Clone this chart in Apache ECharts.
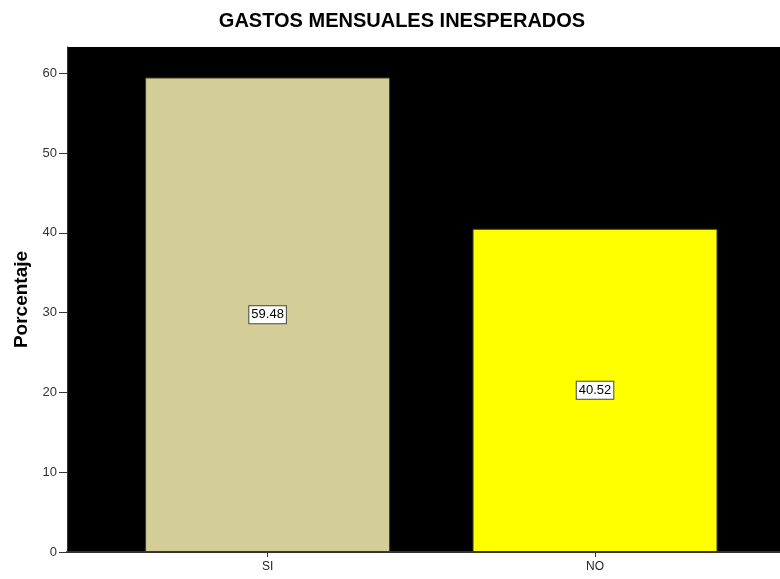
<!DOCTYPE html>
<html>
<head>
<meta charset="utf-8">
<script src="https://cdn.jsdelivr.net/npm/echarts@6/dist/echarts.min.js"></script>
<style>
html,body{margin:0;padding:0;background:#fff;}
#chart{width:780px;height:579px;}
</style>
</head>
<body>
<div id="chart"></div>
<script>
var categories = ['SI', 'NO'];
var percentages = [59.48, 40.52];
var barColors = ['#d3ce98', '#ffff00'];
var yTicks = [0, 10, 20, 30, 40, 50, 60];

var chart = echarts.init(document.getElementById('chart'), null, {renderer: 'canvas'});
var data = categories.map(function (c, i) {
  return {value: [i, percentages[i]], itemStyle: {color: barColors[i]}};
});
chart.setOption({
  animation: false,
  title: {
    text: 'GASTOS MENSUALES INESPERADOS',
    left: 397, top: 6, textAlign: 'center',
    textStyle: {fontFamily: 'Liberation Sans, Arial', fontSize: 20, fontWeight: 'bold', color: '#000'}
  },
  grid: {
    left: 67, right: 0, top: 47, bottom: 27,
    show: true, backgroundColor: '#000', borderWidth: 0
  },
  xAxis: {
    type: 'value', min: -0.6127, max: 1.565,
    axisLine: {show: true, onZero: false, lineStyle: {color: '#333', width: 2}},
    axisTick: {show: true, customValues: [0, 1], length: 5, lineStyle: {color: '#333'}},
    axisLabel: {
      customValues: [0, 1], margin: 9,
      formatter: function (v) { return categories[Math.round(v)]; },
      fontFamily: 'Liberation Sans, Arial', fontSize: 12, color: '#222'
    },
    splitLine: {show: false}
  },
  yAxis: {
    type: 'value', min: 0, max: 63.3,
    name: 'Porcentaje', nameLocation: 'middle', nameGap: 36,
    nameTextStyle: {fontFamily: 'Liberation Sans, Arial', fontSize: 19, fontWeight: 'bold', color: '#000'},
    axisLine: {show: true, onZero: false, lineStyle: {color: '#333', width: 1}},
    axisTick: {show: true, customValues: yTicks, length: 8, lineStyle: {color: '#333'}},
    axisLabel: {customValues: yTicks, margin: 10, fontFamily: 'Liberation Sans, Arial', fontSize: 13, color: '#333'},
    splitLine: {show: false}
  },
  series: [{
    type: 'bar',
    data: data,
    barWidth: 245,
    itemStyle: {borderColor: '#3a3a20', borderWidth: 1},
    label: {
      show: true, position: 'inside',
      formatter: function (p) { return p.value[1].toFixed(2); },
      fontFamily: 'Liberation Sans, Arial', fontSize: 13, color: '#000',
      backgroundColor: '#fff', borderColor: '#444', borderWidth: 1,
      padding: [3, 2, 1, 2]
    }
  }]
});
</script>
</body>
</html>
